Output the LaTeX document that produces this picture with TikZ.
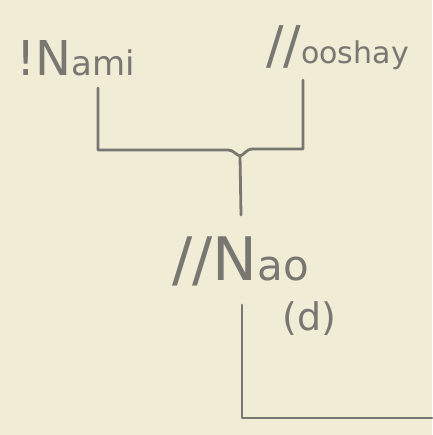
\documentclass[tikz,border=0pt]{standalone}
\usepackage{fontspec}
\setmainfont{DejaVu Sans}
\definecolor{paper}{RGB}{241,236,214}
\definecolor{pencil}{RGB}{120,119,114}
\begin{document}
\begin{tikzpicture}[x=1pt,y=1pt,
  pencilline/.style={draw=pencil,line width=2.8pt,line cap=round,line join=round},
  label/.style={text=pencil,inner sep=0pt,anchor=base west}]
\useasboundingbox (0,0) rectangle (432,-435);
\fill[paper] (0,0) rectangle (432,-435);
% names
\node[label] (nami) at (16,-76) {{\fontsize{48}{48}\selectfont !N}{\fontsize{34}{34}\selectfont ami}};
\node[label] (ooshay) at (266,-64) {{\fontsize{52}{52}\selectfont //}{\fontsize{30}{30}\selectfont ooshay}};
\node[label] (nao) at (172,-280) {{\fontsize{60}{60}\selectfont //N}{\fontsize{42}{42}\selectfont ao}};
\node[label] (dd) at (282,-330) {\fontsize{38}{38}\selectfont (d)};
% connectors
\coordinate (nl) at (98,-88);
\coordinate (orr) at (303,-80);
\coordinate (j) at (240,-156);
\coordinate (ns) at (241,-215);
\coordinate (nb) at (242,-305);
\coordinate (ne) at (432,-418);
\draw[pencilline] (nl) -- (98,-150) -- (228,-150) to[out=0,in=160] (j) to[out=20,in=180] (252,-149) -- (303,-149) -- (orr);
\draw[pencilline] (j) -- (ns);
\draw[pencilline] (nb) -- (242,-418) -- (ne);
\end{tikzpicture}
\end{document}
